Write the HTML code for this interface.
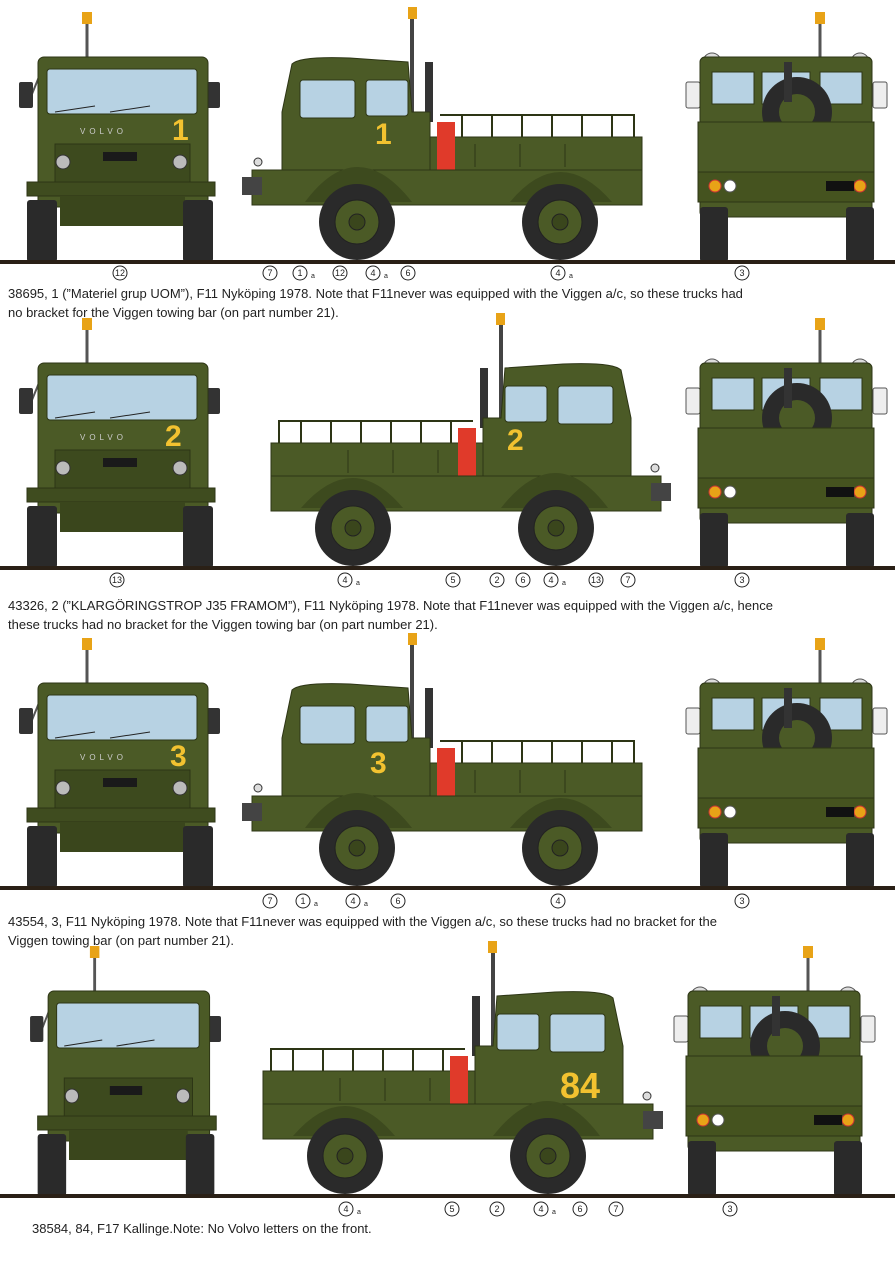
<!DOCTYPE html>
<html><head><meta charset="utf-8"><style>
html,body{margin:0;padding:0;background:#fff}
svg{display:block}
text{font-family:"Liberation Sans",sans-serif}
.cap{font-size:13px;fill:#222}
.n{font-size:9px;fill:#222;text-anchor:middle}
</style></head><body>
<svg width="895" height="1275" viewBox="0 0 895 1275" xmlns="http://www.w3.org/2000/svg">
<defs>
<g id="front">
  <line x1="87" y1="-240" x2="87" y2="-205" stroke="#555" stroke-width="3"/>
  <rect x="82" y="-250" width="10" height="12" fill="#e8a317"/>
  <line x1="32" y1="-168" x2="45" y2="-200" stroke="#555" stroke-width="2"/>
  <line x1="210" y1="-168" x2="198" y2="-200" stroke="#555" stroke-width="2"/>
  <rect x="19" y="-180" width="14" height="26" rx="2" fill="#333"/>
  <rect x="206" y="-180" width="14" height="26" rx="2" fill="#333"/>
  <rect x="38" y="-205" width="170" height="150" rx="6" fill="#4b5a26" stroke="#2d3515"/>
  <rect x="47" y="-193" width="150" height="45" rx="3" fill="#b7d2e3" stroke="#2d3515"/>
  <line x1="55" y1="-150" x2="95" y2="-156" stroke="#222"/>
  <line x1="110" y1="-150" x2="150" y2="-156" stroke="#222"/>
  <rect x="55" y="-118" width="135" height="40" fill="#3d4a1e" stroke="#2d3515"/>
  <circle cx="63" cy="-100" r="7" fill="#bbb" stroke="#333"/>
  <circle cx="180" cy="-100" r="7" fill="#bbb" stroke="#333"/>
  <rect x="103" y="-110" width="34" height="9" fill="#1a1a1a"/>
  <rect x="27" y="-80" width="188" height="14" fill="#3f4c1f" stroke="#2d3515"/>
  <rect x="60" y="-66" width="125" height="30" fill="#3a461c"/>
  <rect x="27" y="-62" width="30" height="62" rx="3" fill="#2a2a2a"/>
  <rect x="183" y="-62" width="30" height="62" rx="3" fill="#2a2a2a"/>
</g>
<g id="side">
  <line x1="412" y1="-245" x2="412" y2="-150" stroke="#444" stroke-width="4"/>
  <rect x="408" y="-255" width="9" height="12" fill="#e8a317"/>
  <rect x="425" y="-200" width="8" height="60" fill="#333"/>
  <path d="M282,-60 L282,-150 L292,-198 Q300,-206 350,-204 L408,-200 L412,-150 L430,-150 L430,-60 Z" fill="#4b5a26" stroke="#2d3515"/>
  <rect x="300" y="-182" width="55" height="38" rx="3" fill="#b7d2e3" stroke="#2d3515"/>
  <rect x="366" y="-182" width="42" height="36" rx="3" fill="#b7d2e3" stroke="#2d3515"/>
  <g stroke="#2d3515" stroke-width="2">
    <line x1="440" y1="-147" x2="635" y2="-147"/>
    <line x1="462" y1="-147" x2="462" y2="-125"/><line x1="492" y1="-147" x2="492" y2="-125"/>
    <line x1="522" y1="-147" x2="522" y2="-125"/><line x1="552" y1="-147" x2="552" y2="-125"/>
    <line x1="582" y1="-147" x2="582" y2="-125"/><line x1="612" y1="-147" x2="612" y2="-125"/>
    <line x1="634" y1="-147" x2="634" y2="-125"/>
  </g>
  <rect x="430" y="-125" width="212" height="45" fill="#4b5a26" stroke="#2d3515"/>
  <g stroke="#2d3515"><line x1="475" y1="-118" x2="475" y2="-95"/><line x1="520" y1="-118" x2="520" y2="-95"/><line x1="565" y1="-118" x2="565" y2="-95"/></g>
  <rect x="437" y="-140" width="18" height="55" fill="#e03a2a"/>
  <rect x="252" y="-92" width="390" height="35" fill="#4b5a26" stroke="#2d3515"/>
  <rect x="242" y="-85" width="20" height="18" fill="#444"/>
  <circle cx="258" cy="-100" r="4" fill="#ddd" stroke="#333"/>
  <path d="M305,-60 Q357,-130 412,-60 Z" fill="#3d4a1e"/>
  <path d="M510,-60 Q560,-120 612,-60 Z" fill="#3d4a1e"/>
  <circle cx="357" cy="-40" r="38" fill="#2a2a2a"/>
  <circle cx="357" cy="-40" r="22" fill="#4b5a26" stroke="#222"/>
  <circle cx="357" cy="-40" r="8" fill="#3a461c" stroke="#222"/>
  <circle cx="560" cy="-40" r="38" fill="#2a2a2a"/>
  <circle cx="560" cy="-40" r="22" fill="#4b5a26" stroke="#222"/>
  <circle cx="560" cy="-40" r="8" fill="#3a461c" stroke="#222"/>
</g>
<g id="rear">
  <line x1="820" y1="-240" x2="820" y2="-200" stroke="#555" stroke-width="3"/>
  <rect x="815" y="-250" width="10" height="12" fill="#e8a317"/>
  <circle cx="712" cy="-200" r="9" fill="#ddd" stroke="#555"/>
  <circle cx="860" cy="-200" r="9" fill="#ddd" stroke="#555"/>
  <rect x="686" y="-180" width="14" height="26" rx="2" fill="#eee" stroke="#555"/>
  <rect x="873" y="-180" width="14" height="26" rx="2" fill="#eee" stroke="#555"/>
  <rect x="700" y="-205" width="172" height="160" rx="5" fill="#4b5a26" stroke="#2d3515"/>
  <rect x="712" y="-190" width="42" height="32" fill="#b7d2e3" stroke="#2d3515"/>
  <rect x="762" y="-190" width="48" height="32" fill="#b7d2e3" stroke="#2d3515"/>
  <rect x="820" y="-190" width="42" height="32" fill="#b7d2e3" stroke="#2d3515"/>
  <circle cx="797" cy="-150" r="35" fill="#2a2a2a"/>
  <circle cx="797" cy="-150" r="18" fill="#4b5a26"/>
  <rect x="784" y="-200" width="8" height="40" fill="#333"/>
  <rect x="698" y="-140" width="176" height="55" fill="#4b5a26" stroke="#2d3515"/>
  <rect x="698" y="-90" width="176" height="30" fill="#45531f" stroke="#2d3515"/>
  <circle cx="715" cy="-76" r="6" fill="#e8a317" stroke="#c33"/>
  <circle cx="730" cy="-76" r="6" fill="#fff" stroke="#555"/>
  <circle cx="860" cy="-76" r="6" fill="#e8a317" stroke="#c33"/>
  <rect x="826" y="-81" width="28" height="10" fill="#111"/>
  <rect x="700" y="-55" width="28" height="55" rx="3" fill="#2a2a2a"/>
  <rect x="846" y="-55" width="28" height="55" rx="3" fill="#2a2a2a"/>
</g>
<g id="ground"><rect x="0" y="-2" width="895" height="4" fill="#2a2016"/></g>
</defs>

<g transform="translate(0,262)">
  <use href="#front"/><use href="#side"/><use href="#rear"/><use href="#ground"/>
  <text x="172" y="-122" font-size="30" font-weight="bold" fill="#f2c230">1</text>
  <text x="80" y="-128" font-size="8" fill="#ccc" letter-spacing="4">VOLVO</text>
  <text x="375" y="-118" font-size="30" font-weight="bold" fill="#f2c230">1</text>
</g>
<g transform="translate(0,568)">
  <use href="#front"/><use href="#side" transform="translate(913,0) scale(-1,1)"/><use href="#rear"/><use href="#ground"/>
  <text x="165" y="-122" font-size="30" font-weight="bold" fill="#f2c230">2</text>
  <text x="80" y="-128" font-size="8" fill="#ccc" letter-spacing="4">VOLVO</text>
  <text x="507" y="-118" font-size="30" font-weight="bold" fill="#f2c230">2</text>
</g>
<g transform="translate(0,888)">
  <use href="#front"/><use href="#side"/><use href="#rear"/><use href="#ground"/>
  <text x="170" y="-122" font-size="30" font-weight="bold" fill="#f2c230">3</text>
  <text x="80" y="-128" font-size="8" fill="#ccc" letter-spacing="4">VOLVO</text>
  <text x="370" y="-115" font-size="30" font-weight="bold" fill="#f2c230">3</text>
</g>
<g transform="translate(0,1196)">
  <use href="#front" transform="translate(12,0) scale(0.95,1)"/><use href="#side" transform="translate(905,0) scale(-1,1)"/><use href="#rear" transform="translate(-12,0)"/><use href="#ground"/>
  <text x="560" y="-98" font-size="36" font-weight="bold" fill="#f2c230">84</text>
</g>

<g fill="none" stroke="#222" stroke-width="1">
  <circle cx="120" cy="273" r="7"/><circle cx="270" cy="273" r="7"/><circle cx="300" cy="273" r="7"/><circle cx="340" cy="273" r="7"/><circle cx="373" cy="273" r="7"/><circle cx="408" cy="273" r="7"/><circle cx="558" cy="273" r="7"/><circle cx="742" cy="273" r="7"/>
  <circle cx="117" cy="580" r="7"/><circle cx="345" cy="580" r="7"/><circle cx="453" cy="580" r="7"/><circle cx="497" cy="580" r="7"/><circle cx="523" cy="580" r="7"/><circle cx="551" cy="580" r="7"/><circle cx="596" cy="580" r="7"/><circle cx="628" cy="580" r="7"/><circle cx="742" cy="580" r="7"/>
  <circle cx="270" cy="901" r="7"/><circle cx="303" cy="901" r="7"/><circle cx="353" cy="901" r="7"/><circle cx="398" cy="901" r="7"/><circle cx="558" cy="901" r="7"/><circle cx="742" cy="901" r="7"/>
  <circle cx="346" cy="1209" r="7"/><circle cx="452" cy="1209" r="7"/><circle cx="497" cy="1209" r="7"/><circle cx="541" cy="1209" r="7"/><circle cx="580" cy="1209" r="7"/><circle cx="616" cy="1209" r="7"/><circle cx="730" cy="1209" r="7"/>
</g>
<g class="n">
  <text class="n" x="120" y="276">12</text><text class="n" x="270" y="276">7</text><text class="n" x="300" y="276">1</text><text class="n" x="340" y="276">12</text><text class="n" x="373" y="276">4</text><text class="n" x="408" y="276">6</text><text class="n" x="558" y="276">4</text><text class="n" x="742" y="276">3</text>
  <text class="n" x="117" y="583">13</text><text class="n" x="345" y="583">4</text><text class="n" x="453" y="583">5</text><text class="n" x="497" y="583">2</text><text class="n" x="523" y="583">6</text><text class="n" x="551" y="583">4</text><text class="n" x="596" y="583">13</text><text class="n" x="628" y="583">7</text><text class="n" x="742" y="583">3</text>
  <text class="n" x="270" y="904">7</text><text class="n" x="303" y="904">1</text><text class="n" x="353" y="904">4</text><text class="n" x="398" y="904">6</text><text class="n" x="558" y="904">4</text><text class="n" x="742" y="904">3</text>
  <text class="n" x="346" y="1212">4</text><text class="n" x="452" y="1212">5</text><text class="n" x="497" y="1212">2</text><text class="n" x="541" y="1212">4</text><text class="n" x="580" y="1212">6</text><text class="n" x="616" y="1212">7</text><text class="n" x="730" y="1212">3</text>
  <text x="313" y="278" font-size="7">a</text><text x="386" y="278" font-size="7">a</text><text x="571" y="278" font-size="7">a</text>
  <text x="358" y="585" font-size="7">a</text><text x="564" y="585" font-size="7">a</text>
  <text x="316" y="906" font-size="7">a</text><text x="366" y="906" font-size="7">a</text>
  <text x="359" y="1214" font-size="7">a</text><text x="554" y="1214" font-size="7">a</text>
</g>

<text class="cap" x="8" y="298">38695, 1 (”Materiel grup UOM”), F11 Nyköping 1978. Note that F11never was equipped with the Viggen a/c, so these trucks had</text>
<text class="cap" x="8" y="317">no bracket for the Viggen towing bar (on part number 21).</text>
<text class="cap" x="8" y="610">43326, 2 (”KLARGÖRINGSTROP J35 FRAMOM”), F11 Nyköping 1978. Note that F11never was equipped with the Viggen a/c, hence</text>
<text class="cap" x="8" y="629">these trucks had no bracket for the Viggen towing bar (on part number 21).</text>
<text class="cap" x="8" y="926">43554, 3, F11 Nyköping 1978. Note that F11never was equipped with the Viggen a/c, so these trucks had no bracket for the</text>
<text class="cap" x="8" y="945">Viggen towing bar (on part number 21).</text>
<text class="cap" x="32" y="1233">38584, 84, F17 Kallinge.Note: No Volvo letters on the front.</text>
</svg>
</body></html>
